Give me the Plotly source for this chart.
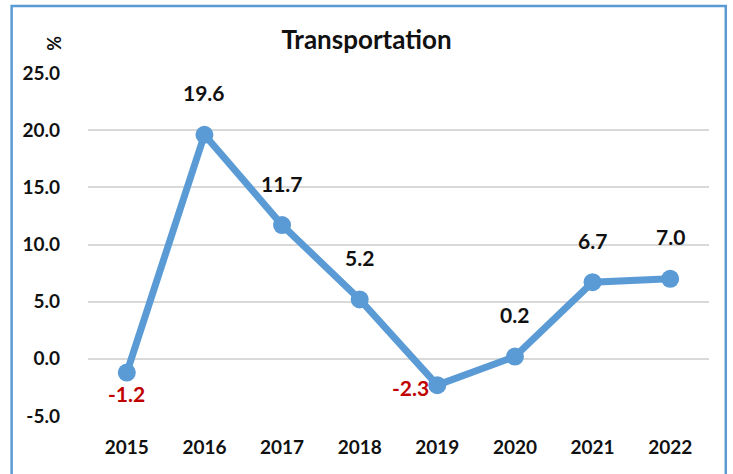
import plotly.graph_objects as go

years = ["2015", "2016", "2017", "2018", "2019", "2020", "2021", "2022"]
values = [-1.2, 19.6, 11.7, 5.2, -2.3, 0.2, 6.7, 7.0]
y_ticks = [-5, 0, 5, 10, 15, 20, 25]
y_tick_labels = ["-5.0", "0.0", "5.0", "10.0", "15.0", "20.0", "25.0"]

FONT = "Lato"
line_color = "#5B9BD5"

fig = go.Figure()
fig.add_trace(go.Scatter(
    x=years, y=values, mode="lines+markers",
    line=dict(color=line_color, width=7),
    marker=dict(color=line_color, size=18),
    hoverinfo="skip", showlegend=False,
))

for i, v in enumerate(values):
    if v >= 0:
        fig.add_annotation(x=i, y=v, text=f"<b>{v:.1f}</b>", showarrow=False,
                           yshift=42, font=dict(family=FONT, size=21, color="#111111"))
    elif i == 0:
        fig.add_annotation(x=i, y=v, text=f"<b>{v:.1f}</b>", showarrow=False,
                           yshift=-21, font=dict(family=FONT, size=21, color="#C00000"))
    else:
        fig.add_annotation(x=i, y=v, text=f"<b>{v:.1f}</b>", showarrow=False,
                           xshift=-27, yshift=-2, font=dict(family=FONT, size=21, color="#C00000"))

fig.add_annotation(xref="paper", yref="paper", x=-0.054, y=1.087, xanchor="center", yanchor="middle",
                   text="<b>%</b>", textangle=-90,
                   showarrow=False, font=dict(family=FONT, size=18, color="#111111"))

fig.add_shape(type="rect", xref="paper", yref="paper", x0=-0.123, x1=1.027, y0=-0.25, y1=1.195,
              line=dict(color=line_color, width=2.5), fillcolor="rgba(0,0,0,0)", layer="below")

fig.update_layout(
    width=733, height=474,
    margin=dict(l=88, r=24, t=73, b=58),
    paper_bgcolor="white", plot_bgcolor="white",
    title=dict(text="<b>Transportation</b>", x=0.5, xanchor="center", y=0.915, yanchor="middle",
               font=dict(family=FONT, size=26, color="#111111")),
    xaxis=dict(type="category", range=[-0.5, 7.5], showgrid=False, zeroline=False,
               showline=False, ticks="", tickfont=dict(family=FONT, size=19, color="#111111", weight="bold"),
               ticklabelstandoff=18),
    yaxis=dict(range=[-5, 25], tickvals=y_ticks, ticktext=y_tick_labels, showgrid=True,
               gridcolor="#D9D9D9", gridwidth=2, zeroline=False, showline=False, ticks="",
               tickfont=dict(family=FONT, size=19, color="#111111", weight="bold"),
               ticklabelstandoff=27),
)

fig.write_html("out.html", config={"displayModeBar": False},
               post_script="document.body.style.margin='0';")
